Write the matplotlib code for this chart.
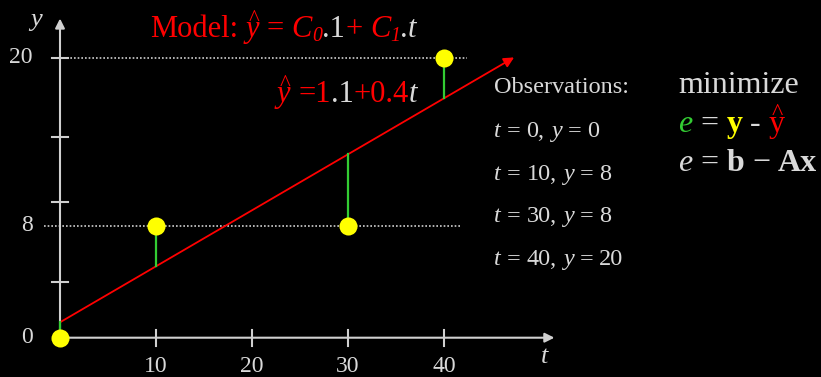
import matplotlib
matplotlib.use("Agg")
import matplotlib.pyplot as plt
from matplotlib import transforms

# observations and fitted model
t_obs = [0, 10, 30, 40]
y_obs = [0, 8, 8, 20]
c0, c1 = 1.1, 0.4
t_end = 47.3

xtick_vals = [10, 20, 30, 40]
ytick_vals = [4, 9.7, 14.3, 20]
ylabel_vals = [0, 8, 20]
guide_vals = [8, 20]

GREY = "#d9d9d9"
AXIS = "#d0d0d0"
RED = "#ff0000"
GREEN = "#33cc33"
YELLOW = "#ffff00"
SERIF = "Liberation Serif"

plt.rcParams["font.family"] = SERIF

fig = plt.figure(figsize=(8.21, 3.77), dpi=100, facecolor="black")
ax = fig.add_axes([0, 0, 1, 1])
ax.set_facecolor("black")
# 9.6 px per unit of t, 14 px per unit of y, origin at pixel (60, 337.7)
ax.set_xlim(-60 / 9.6, 761 / 9.6)
ax.set_ylim(-39.3 / 14, 337.7 / 14)
ax.axis("off")


def px(x, y):
    return (x - 60) / 9.6, (337.7 - y) / 14


renderer = fig.canvas.get_renderer()


def rich(x, y, pieces, size):
    """Write a run of differently styled pieces along one baseline."""
    x0, y0 = px(x, y)
    xoff = 0.0
    for s, color, opts in pieces:
        fs = size * opts.get("scale", 1)
        xoff += opts.get("gap", 0) * size * 100 / 72
        dy = opts.get("dy", 0) * size * 100 / 72
        tr = transforms.offset_copy(ax.transData, fig=fig, x=xoff, y=dy, units="dots")
        txt = ax.text(x0, y0, s, transform=tr, fontsize=fs, color=color,
                      style=opts.get("style", "normal"),
                      weight=opts.get("weight", "normal"),
                      va="baseline", ha="left")
        ext = txt.get_window_extent(renderer)
        if opts.get("hat"):
            # caret sitting above the letter
            shift = 1.5 if opts.get("style") == "italic" else 0
            htr = transforms.offset_copy(ax.transData, fig=fig,
                                         x=xoff + ext.width / 2 + shift,
                                         y=0.40 * fs * 100 / 72, units="dots")
            ax.text(x0, y0, "^", transform=htr, fontsize=fs * 0.75, color=color,
                    ha="center", va="baseline")
        xoff += ext.width


IT = {"style": "italic"}
SP = {"gap": 0.25}

# axes with arrows
arrow = dict(arrowstyle="-|>", color=AXIS, lw=1.5, mutation_scale=14, shrinkA=0, shrinkB=0)
ax.annotate("", xy=(51.5, 0), xytext=(0, 0), arrowprops=arrow)
ax.annotate("", xy=(0, 22.8), xytext=(0, 0), arrowprops=arrow)

for tv in xtick_vals:
    ax.plot([tv, tv], [-0.57, 0.57], color=AXIS, lw=1.5)
    ax.text(tv, px(0, 366)[1], str(tv), ha="center", va="center", fontsize=17, color=GREY)
for yv in ytick_vals:
    ax.plot([-0.83, 0.83], [yv, yv], color=AXIS, lw=1.5)
for yv in ylabel_vals:
    ax.text(px(33, 0)[0], yv, str(yv), ha="right", va="center", fontsize=17, color=GREY)

ax.plot([-0.83, 42.4], [guide_vals[1]] * 2, color=AXIS, lw=1.2, ls=(0, (1, 1.2)))
ax.plot([-1.67, 41.7], [guide_vals[0]] * 2, color=AXIS, lw=1.2, ls=(0, (1, 1.2)))

ax.text(*px(36, 20), "y", style="italic", fontsize=19, color=GREY, ha="center", va="center")
ax.text(*px(545, 357), "t", style="italic", fontsize=19, color=GREY, ha="center", va="center")

# fitted line and residuals
ax.annotate("", xy=(t_end, c0 + c1 * t_end), xytext=(0, c0),
            arrowprops=dict(arrowstyle="-|>", color=RED, lw=1.3, mutation_scale=15,
                            shrinkA=0, shrinkB=0), zorder=3)
for tv, yv in zip(t_obs, y_obs):
    ax.plot([tv, tv], [yv, c0 + c1 * tv], color=GREEN, lw=1.6, zorder=4)
ax.plot(t_obs, y_obs, "o", color=YELLOW, ms=13, mec="none", zorder=5, clip_on=False)

# model title
rich(150, 37, [
    ("Model:", RED, {}),
    ("y", RED, {"style": "italic", "gap": 0.25, "hat": True}),
    ("=", RED, SP),
    ("C", RED, {"style": "italic", "gap": 0.25}),
    ("0", RED, {"style": "italic", "scale": 0.65, "dy": -0.12}),
    (".1", GREY, {}),
    ("+", RED, {}),
    ("C", RED, {"style": "italic", "gap": 0.25}),
    ("1", RED, {"style": "italic", "scale": 0.65, "dy": -0.12}),
    (".", GREY, {}),
    ("t", GREY, IT),
], 22)

# fitted equation
rich(277, 102, [
    ("y", RED, {"style": "italic", "hat": True}),
    ("=%g" % int(c0), RED, SP),
    (".%d" % round((c0 % 1) * 10), GREY, {}),
    ("+%g" % c1, RED, {}),
    ("t", GREY, IT),
], 22)

# observation list
ax.text(*px(494, 93), "Observations:", fontsize=17.5, color=GREY, va="baseline")
for i, (tv, yv) in enumerate(zip(t_obs, y_obs)):
    rich(494, 137 + 42.7 * i, [
        ("t", GREY, IT),
        ("=", GREY, SP),
        ("%d," % tv, GREY, SP),
        ("y", GREY, {"style": "italic", "gap": 0.25}),
        ("=", GREY, SP),
        ("%d" % yv, GREY, SP),
    ], 17.5)

# objective
ax.text(*px(678, 93), "minimize", fontsize=23, color=GREY, va="baseline")
rich(678, 132, [
    ("e", GREEN, IT),
    ("=", GREY, SP),
    ("y", YELLOW, {"weight": "bold", "gap": 0.25}),
    ("-", GREY, SP),
    ("y", RED, {"gap": 0.25, "hat": True}),
], 23)
rich(678, 171, [
    ("e", GREY, IT),
    ("=", GREY, SP),
    ("b", GREY, {"weight": "bold", "gap": 0.25}),
    ("\u2212", GREY, SP),
    ("Ax", GREY, {"weight": "bold", "gap": 0.25}),
], 23)

fig.savefig("out.png", dpi=100, facecolor="black")
